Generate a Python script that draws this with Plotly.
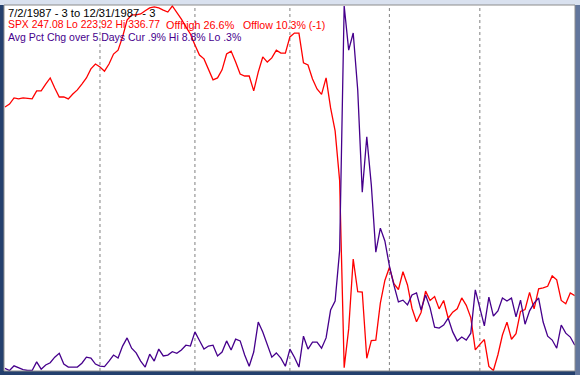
import plotly.graph_objects as go
import pandas as pd

# ---- data -------------------------------------------------------------
holidays = ["1987-07-03", "1987-09-07", "1987-11-26", "1987-12-25"]
dates = pd.bdate_range("1987-07-02", "1987-12-31")
dates = dates[~dates.isin(pd.to_datetime(holidays))]

spx_close = [
    305.5, 306.4, 308.3, 308.0, 308.3, 308.1, 308.0, 310.5, 310.5, 312.6,
    314.5, 311.4, 308.6, 308.6, 308.0, 309.5, 310.8, 312.6, 314.5, 317.3,
    318.8, 317.9, 316.6, 318.8, 321.9, 323.1, 327.2, 332.4, 334.0, 334.0,
    334.3, 335.3, 336.2, 336.5, 336.2, 335.5, 334.9, 336.77, 334.9, 332.7,
    330.3, 328.1, 324.7, 321.6, 320.4, 317.0, 313.9, 314.5, 317.0, 321.9,
    322.8, 319.4, 315.7, 315.1, 315.1, 310.5, 316.3, 321.0, 319.4, 320.7,
    323.1, 322.2, 322.2, 327.2, 328.4, 328.4, 319.2, 318.5, 314.2, 311.1,
    309.4, 314.5, 305.2, 298.1, 282.7, 224.8, 236.8, 258.4, 248.3, 248.2,
    227.7, 233.2, 233.3, 244.8, 251.8, 255.8, 250.8, 249.0, 254.5, 250.4,
    243.2, 239.0, 241.9, 248.5, 245.6, 246.8, 243.0, 245.6, 240.1, 242.0,
    243.0, 246.4, 244.1, 240.3, 230.3, 232.0, 233.5, 225.2, 223.92, 228.8,
    234.9, 238.9, 233.6, 235.3, 242.2, 242.8, 248.1, 243.0, 249.2, 249.5,
    250.0, 253.2, 252.0, 245.6, 244.6, 247.9, 247.08,
]

avg_pct_chg = [
    0.35, 0.30, 0.41, 0.36, 0.32, 0.30, 0.30, 0.50, 0.33, 0.43,
    0.48, 0.61, 0.70, 0.45, 0.38, 0.38, 0.38, 0.47, 0.61, 0.59,
    0.45, 0.40, 0.39, 0.52, 0.66, 0.59, 0.87, 1.06, 0.82, 0.71,
    0.52, 0.38, 0.68, 0.52, 0.80, 0.64, 0.66, 0.74, 0.70, 0.78,
    0.89, 0.87, 1.20, 1.00, 0.80, 0.87, 0.89, 0.64, 0.73, 0.99,
    0.78, 1.03, 0.99, 0.66, 0.40, 0.73, 1.43, 1.20, 0.92, 0.61,
    0.71, 0.59, 0.40, 0.80, 0.61, 0.38, 1.10, 0.80, 0.96, 0.96,
    0.82, 1.06, 1.71, 1.92, 3.10, 8.80, 7.77, 8.17, 6.84, 4.46,
    5.75, 4.63, 3.06, 3.62, 3.32, 2.74, 2.29, 1.90, 1.94, 1.83,
    2.06, 2.11, 1.71, 2.06, 1.76, 1.31, 1.29, 1.36, 1.52, 1.20,
    0.99, 1.08, 1.01, 1.17, 2.18, 1.78, 1.34, 2.01, 1.57, 1.69,
    1.99, 1.92, 1.99, 1.55, 1.94, 1.38, 1.69, 1.87, 1.99, 1.43,
    1.10, 1.01, 0.82, 1.36, 1.17, 1.08, 0.89,
]

period_label = "7/2/1987 - 3 to 12/31/1987 - 3"
spx_label_parts = ["SPX 247.08 Lo 223.92 Hi 336.77", "Offhigh 26.6%", "Offlow 10.3% (-1)"]
avg_label = "Avg Pct Chg over 5 Days Cur .9% Hi 8.8% Lo .3%"

# ---- figure -----------------------------------------------------------
n = len(dates)
idx = list(range(n))
month_starts = [i for i in range(1, n) if dates[i].month != dates[i - 1].month]

RED = "#FF0000"
BLUE = "#46008C"

fig = go.Figure()
fig.add_trace(go.Scatter(x=idx, y=spx_close, mode="lines",
                         line=dict(color=RED, width=1.3), yaxis="y"))
fig.add_trace(go.Scatter(x=idx, y=avg_pct_chg, mode="lines",
                         line=dict(color=BLUE, width=1.3), yaxis="y2"))

W, H = 580, 375
ml, mr, mt, mb = 4, 5, 5, 4
pw, ph = W - ml - mr, H - mt - mb

span = (n - 1) * pw / (pw - 0.2 - 1)
x0 = -span / pw
x1 = x0 + span

hi_r, lo_r = max(spx_close), min(spx_close)
s_r = 364.5 / (hi_r - lo_r)
hi_b, lo_b = max(avg_pct_chg), min(avg_pct_chg)
s_b = 364.5 / (hi_b - lo_b)

shapes = []
for m in month_starts:
    shapes.append(dict(type="line", xref="x", yref="paper", x0=m, x1=m, y0=0, y1=1,
                       line=dict(color="#808080", width=1, dash="3px,3px"), layer="below"))
shapes.append(dict(type="rect", xref="paper", yref="paper",
                   x0=-ml / pw, x1=1 + mr / pw, y0=1, y1=1 + mt / ph,
                   fillcolor="#D9E1EF", line=dict(width=0), layer="above"))
shapes.append(dict(type="rect", xref="paper", yref="paper",
                   x0=1, x1=1 + mr / pw, y0=-mb / ph, y1=1,
                   fillcolor="#62769C", line=dict(width=0), layer="above"))
shapes.append(dict(type="rect", xref="paper", yref="paper", x0=0, x1=1, y0=0, y1=1,
                   line=dict(color="#8C8C8C", width=1), layer="above"))

FONT = "Liberation Sans, Arial"


def label(text, px, yc, color, size=11):
    return dict(text=text, xref="paper", yref="paper",
                x=(px - ml) / pw, y=1 - (yc - mt) / ph,
                xanchor="left", yanchor="middle", showarrow=False,
                font=dict(family=FONT, size=size, color=color), borderpad=0)


annotations = [
    label(period_label, 7, 12.7, "#000000", 11.2),
    label(spx_label_parts[0], 7, 24.7, RED, 10.4),
    label(spx_label_parts[1], 165, 24.7, RED, 10.8),
    label(spx_label_parts[2], 242, 24.7, RED, 10.6),
    label(avg_label, 7, 36.7, BLUE, 10.5),
]

fig.update_layout(
    width=W, height=H,
    margin=dict(l=ml, r=mr, t=mt, b=mb, pad=0),
    paper_bgcolor="#24406E",
    plot_bgcolor="#FFFFFF",
    showlegend=False,
    xaxis=dict(visible=False, range=[x0, x1], fixedrange=True),
    yaxis=dict(visible=False, range=[lo_r - 0.5 / s_r, hi_r + 1 / s_r]),
    yaxis2=dict(visible=False, overlaying="y", range=[lo_b - 0.5 / s_b, hi_b + 1 / s_b]),
    shapes=shapes,
    annotations=annotations,
)

fig.write_html("out.html", config={"displayModeBar": False})
